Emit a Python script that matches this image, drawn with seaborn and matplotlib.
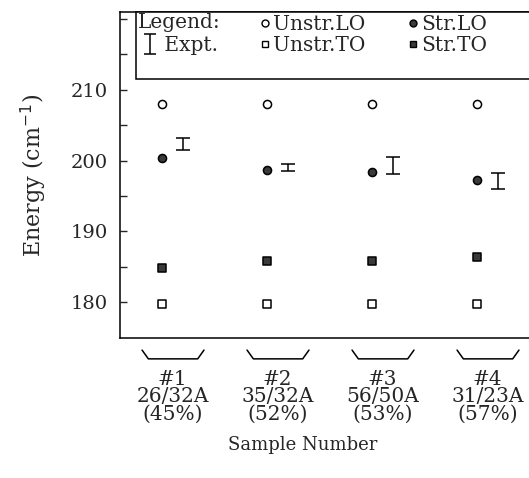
import matplotlib
matplotlib.use("Agg")
import matplotlib.pyplot as plt
import matplotlib.transforms as mtransforms
from matplotlib.lines import Line2D
from matplotlib.patches import Rectangle
import seaborn as sns
import pandas as pd
import numpy as np

# ---- data ----
samples = ["#1", "#2", "#3", "#4"]
composition = ["26/32A", "35/32A", "56/50A", "31/23A"]
percent = ["(45%)", "(52%)", "(53%)", "(57%)"]
unstr_lo = [208.0, 208.0, 208.0, 208.0]
str_lo = [200.3, 198.7, 198.4, 197.2]
unstr_to = [179.7, 179.7, 179.7, 179.7]
str_to = [184.8, 185.8, 185.8, 186.4]
expt = [202.4, 199.0, 199.3, 197.1]
expt_err = [0.85, 0.55, 1.2, 1.1]

sns.set_style("ticks")
plt.rcParams["font.family"] = ["DejaVu Serif"]

fig = plt.figure(figsize=(5.29, 4.78), dpi=100)
W, H = 529, 478
ax_left, ax_right, ax_top, ax_bot = 120, 545, 12, 338
ax = fig.add_axes([ax_left / W, (H - ax_bot) / H, (ax_right - ax_left) / W, (ax_bot - ax_top) / H])

xpos = np.arange(1, len(samples) + 1)
series = {
    "Unstr.LO": unstr_lo,
    "Unstr.TO": unstr_to,
    "Str.LO": str_lo,
    "Str.TO": str_to,
}
rows = []
for name, vals in series.items():
    for x, v in zip(xpos, vals):
        rows.append({"x": x, "E": v, "series": name})
df = pd.DataFrame(rows)

styles = {
    "Unstr.LO": dict(marker="o", facecolor="white"),
    "Unstr.TO": dict(marker="s", facecolor="white"),
    "Str.LO": dict(marker="o", facecolor="#3a3a3a"),
    "Str.TO": dict(marker="s", facecolor="#3a3a3a"),
}
for name, st in styles.items():
    sub = df[df["series"] == name]
    sns.scatterplot(data=sub, x="x", y="E", ax=ax, marker=st["marker"], s=34,
                    facecolor=st["facecolor"], edgecolor="black", linewidth=1.1,
                    legend=False, zorder=3)

ax.errorbar(xpos + 0.2, expt, yerr=expt_err, fmt="none", ecolor="black",
            elinewidth=1.1, capsize=5, capthick=1.1, zorder=3)

ax.set_xlim(0.6, 0.6 + (ax_right - ax_left) / 105.0)
ax.set_ylim(174.9, 221.0)
ax.set_yticks([180, 190, 200, 210])
ax.set_yticks([185, 195, 205, 215, 220], minor=True)
ax.tick_params(axis="y", which="both", direction="in", length=5, width=1, labelsize=14, pad=9)
ax.set_xticks(xpos + 0.1)
ax.set_xticklabels([f"{s}\n{c}\n{p}" for s, c, p in zip(samples, composition, percent)],
                   fontsize=14.5, linespacing=0.88)
ax.tick_params(axis="x", length=0, pad=23)
for sp in ax.spines.values():
    sp.set_linewidth(1.1)
    sp.set_color("black")
ax.spines["right"].set_visible(False)

ax.set_ylabel("Energy (cm$^{-1}$)", fontsize=16, labelpad=15)
ax.set_xlabel("Sample Number", fontsize=13)
ax.xaxis.set_label_coords((303 - ax_left) / (ax_right - ax_left), -0.30)

# braces under each sample
trans = mtransforms.blended_transform_factory(ax.transData, ax.transAxes)
yt, yb = -0.037, -0.064
for x in xpos:
    ax.plot([x - 0.19, x - 0.13, x + 0.34, x + 0.40], [yt, yb, yb, yt],
            transform=trans, color="black", lw=1.1, clip_on=False)

# legend box
axw = ax_right - ax_left
axh = ax_bot - ax_top
bx0 = (136 - ax_left) / axw
by0 = (ax_bot - 79) / axh
ax.add_patch(Rectangle((bx0, by0), 1.2, 1 - by0, transform=ax.transAxes,
                       facecolor="white", edgecolor="black", lw=1.1,
                       clip_on=False, zorder=4))
ax.text((138 - ax_left) / axw, (ax_bot - 22) / axh, "Legend:", transform=ax.transAxes,
        fontsize=14.5, va="center", ha="left", zorder=6)

blank = Line2D([], [], linestyle="none")
h_expt = ax.errorbar([np.nan], [np.nan], yerr=[1.0], fmt="none", ecolor="black",
                     capsize=4, elinewidth=1.1, capthick=1.1)
h_ulo = Line2D([], [], marker="o", linestyle="none", markerfacecolor="white",
               markeredgecolor="black", markersize=5)
h_uto = Line2D([], [], marker="s", linestyle="none", markerfacecolor="white",
               markeredgecolor="black", markersize=5)
h_slo = Line2D([], [], marker="o", linestyle="none", markerfacecolor="#3a3a3a",
               markeredgecolor="black", markersize=5)
h_sto = Line2D([], [], marker="s", linestyle="none", markerfacecolor="#3a3a3a",
               markeredgecolor="black", markersize=5)
leg = ax.legend([blank, h_expt, h_ulo, h_uto, h_slo, h_sto],
                [" ", " Expt.", "Unstr.LO", "Unstr.TO", "Str.LO", "Str.TO"],
                ncol=3, frameon=False, loc="upper left",
                bbox_to_anchor=((142 - ax_left) / axw, 1.0),
                fontsize=14.5, handlelength=0.5, handletextpad=0.15,
                columnspacing=2.1, labelspacing=0.1, borderaxespad=0.0,
                borderpad=0.15)
leg.set_zorder(6)

fig.savefig("out.png", dpi=100)
